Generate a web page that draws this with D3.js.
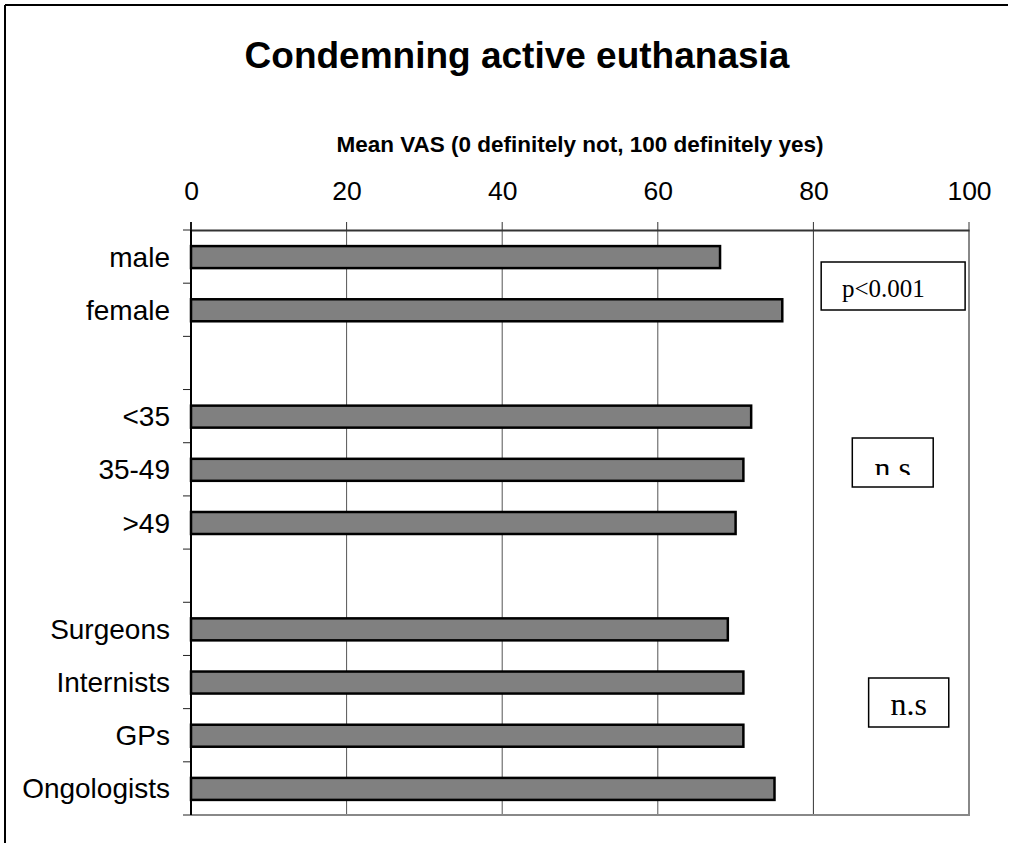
<!DOCTYPE html>
<html><head><meta charset="utf-8">
<script src="https://cdn.jsdelivr.net/npm/d3@7"></script>
<style>body{margin:0;background:#fff}svg{display:block}</style>
</head><body>
<script>
const categories = ["male","female","gap1","<35","35-49",">49","gap2","Surgeons","Internists","GPs","Ongologists"];
const values = [68,76,null,72,71,70,null,69,71,71,75];
const xTicks = [0,20,40,60,80,100];
const title = "Condemning active euthanasia";
const axisTitle = "Mean VAS (0 definitely not, 100 definitely yes)";
const noteLabels = ["p<0.001","n.s","n.s"];
const noteStart = [81.0, 85.0, 87.1];
const noteEnd = [99.5, 95.4, 97.4];

const W=1017,H=843;
const svg=d3.select("body").append("svg").attr("width",W).attr("height",H);
const L=191,R=969,T=230,B=815;
const x=d3.scaleLinear().domain([0,100]).range([L,R]);
const y=d3.scaleBand().domain(categories).range([T,B]).paddingInner(0).paddingOuter(0);
const bw=y.bandwidth();
const barH=22;
const SANS="Liberation Sans, Arial, sans-serif";
const SERIF="Liberation Serif, Times New Roman, serif";

// frame
svg.append("line").attr("x1",5).attr("x2",1008).attr("y1",5).attr("y2",5).attr("stroke","#000").attr("stroke-width",2);
svg.append("line").attr("x1",5).attr("x2",5).attr("y1",5).attr("y2",H).attr("stroke","#000").attr("stroke-width",2);

svg.append("text").attr("x",517).attr("y",68).attr("text-anchor","middle")
  .attr("font-family",SANS).attr("font-weight","bold").attr("font-size",37).text(title);
svg.append("text").attr("x",580).attr("y",152).attr("text-anchor","middle")
  .attr("font-family",SANS).attr("font-weight","bold").attr("font-size",22.5).text(axisTitle);

// gridlines
svg.append("g").selectAll("line").data(xTicks.filter(d=>d>0&&d<100)).join("line")
  .attr("x1",d=>x(d)).attr("x2",d=>x(d)).attr("y1",T).attr("y2",B)
  .attr("stroke",d=>d===80?"#333":"#555").attr("stroke-width",1);

// plot border right & bottom
svg.append("line").attr("x1",R).attr("x2",R).attr("y1",T).attr("y2",B+1).attr("stroke","#888").attr("stroke-width",2);
svg.append("line").attr("x1",L).attr("x2",R+1).attr("y1",B).attr("y2",B).attr("stroke","#888").attr("stroke-width",2);

// top axis
const xAxis=d3.axisTop(x).tickValues(xTicks).tickSize(0).tickPadding(0);
const gx=svg.append("g").attr("transform",`translate(0,${T})`).call(xAxis);
gx.select(".domain").attr("stroke","#333").attr("stroke-width",2);
gx.selectAll("text").attr("font-family",SANS).attr("font-size",26.5).attr("fill","#000")
  .attr("dy",0).attr("y",-30);

// bars
const data=categories.map((c,i)=>({c,v:values[i]})).filter(d=>d.v!=null);
svg.append("g").selectAll("rect").data(data).join("rect")
  .attr("x",x(0)).attr("y",d=>y(d.c)+bw/2-barH/2+0.5)
  .attr("width",d=>x(d.v)-x(0)).attr("height",barH)
  .attr("fill","#808080").attr("stroke","#000").attr("stroke-width",2.5);

// left axis with ticks at boundaries
const bounds=d3.range(categories.length+1).map(i=>T+i*bw);
svg.append("g").selectAll("line").data(bounds).join("line")
  .attr("x1",183).attr("x2",L).attr("y1",d=>d).attr("y2",d=>d).attr("stroke","#222").attr("stroke-width",1);
svg.append("line").attr("x1",L).attr("x2",L).attr("y1",T-8).attr("y2",B).attr("stroke","#000").attr("stroke-width",2);
svg.append("g").selectAll("text").data(categories.filter(c=>!c.startsWith("gap"))).join("text")
  .attr("x",170).attr("y",d=>y(d)+bw/2).attr("dy","0.36em").attr("text-anchor","end")
  .attr("font-family",SANS).attr("font-size",28).attr("fill","#000").text(d=>d);

// vertical tick stubs above top axis
svg.append("g").selectAll("line").data(xTicks).join("line")
  .attr("x1",d=>x(d)).attr("x2",d=>x(d)).attr("y1",T-8).attr("y2",T).attr("stroke","#333").attr("stroke-width",1);

// annotation boxes
const boxes=[{y0:262,y1:310,cut:null,base:297,fs:25,tx:842,anchor:"start"},
             {y0:438,y1:487,cut:475,base:478.5,fs:32,tx:null,anchor:"middle"},
             {y0:678,y1:727,cut:717,base:715,fs:32,tx:null,anchor:"middle"}];
const defs=svg.append("defs");
noteLabels.forEach((lab,i)=>{
  const b=boxes[i];
  const x0=x(noteStart[i]),x1=x(noteEnd[i]);
  svg.append("rect").attr("x",x0).attr("y",b.y0).attr("width",x1-x0).attr("height",b.y1-b.y0)
    .attr("fill","#fff").attr("stroke","#000").attr("stroke-width",1.5);
  const g=svg.append("g");
  if(b.cut){
    defs.append("clipPath").attr("id","cp"+i).append("rect").attr("x",x0).attr("y",b.y0).attr("width",x1-x0).attr("height",b.cut-b.y0);
    g.attr("clip-path",`url(#cp${i})`);
  }
  g.append("text").attr("x",b.tx!=null?b.tx:(x0+x1)/2).attr("y",b.base).attr("text-anchor",b.anchor)
    .attr("font-family",SERIF).attr("font-size",b.fs).attr("fill","#000").text(lab);
});
</script>
</body></html>
